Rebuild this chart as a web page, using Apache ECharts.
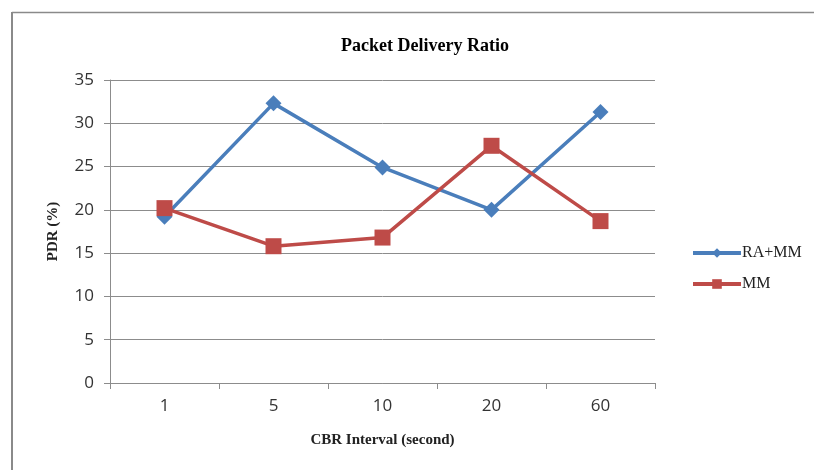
<!DOCTYPE html>
<html>
<head>
<meta charset="utf-8">
<script src="https://cdn.jsdelivr.net/npm/echarts@6/dist/echarts.min.js"></script>
<style>
  html, body { margin: 0; padding: 0; background: #fff; }
  #chart { width: 814px; height: 470px; }
</style>
</head>
<body>
<div id="chart"></div>
<script>
// CBR interval categories (seconds)
const categories = ['1', '5', '10', '20', '60'];
// Packet delivery ratio (%) per series
const raMm = [19.2, 32.3, 24.9, 20.0, 31.3];
const mm = [20.2, 15.8, 16.8, 27.4, 18.7];
// Y axis range
const yMin = 0, yMax = 35, yStep = 5;

const chart = echarts.init(document.getElementById('chart'));
const serif = '"Liberation Serif", "Times New Roman", serif';
const sans = '"Open Sans", "Noto Sans", sans-serif';

chart.setOption({
  animation: false,
  backgroundColor: '#fff',
  title: {
    text: 'Packet Delivery Ratio',
    left: 420, top: 32, textAlign: 'center',
    textStyle: { fontFamily: serif, fontWeight: 'bold', fontSize: 18, color: '#000' }
  },
  graphic: [
    { type: 'line', shape: { x1: 12, y1: 12.5, x2: 814, y2: 12.5 }, style: { stroke: '#8a8a8a', lineWidth: 1.5 } },
    { type: 'line', shape: { x1: 12, y1: 12, x2: 12, y2: 470 }, style: { stroke: '#8a8a8a', lineWidth: 2 } }
  ],
  legend: {
    orient: 'vertical',
    left: 686, top: 240,
    itemGap: 15,
    itemWidth: 48, itemHeight: 12,
    lineStyle: { width: 4 },
    textStyle: { fontFamily: serif, fontSize: 16, color: '#222', padding: [0, 0, 0, -4] },
    data: ['RA+MM', 'MM']
  },
  grid: { left: 110, right: 159, top: 80, bottom: 87 },
  xAxis: {
    type: 'category',
    data: categories,
    boundaryGap: true,
    name: 'CBR Interval (second)',
    nameLocation: 'middle',
    nameGap: 50,
    nameTextStyle: { fontFamily: serif, fontWeight: 'bold', fontSize: 15, color: '#222' },
    axisLine: { lineStyle: { color: '#8c8c8c', width: 1 } },
    axisTick: { show: true, length: 6, inside: false, lineStyle: { color: '#8c8c8c' } },
    axisLabel: { fontFamily: sans, fontSize: 17, color: '#333', margin: 15 }
  },
  yAxis: {
    type: 'value',
    min: yMin, max: yMax, interval: yStep,
    name: 'PDR (%)',
    nameLocation: 'middle',
    nameGap: 49,
    nameRotate: 90,
    nameTextStyle: { fontFamily: serif, fontWeight: 'bold', fontSize: 15, color: '#222' },
    axisLine: { show: true, lineStyle: { color: '#8c8c8c', width: 1 } },
    axisTick: { show: true, length: 6, lineStyle: { color: '#8c8c8c' } },
    axisLabel: { fontFamily: sans, fontSize: 17, color: '#333', margin: 16 },
    splitLine: { lineStyle: { color: '#8c8c8c', width: 1 } }
  },
  series: [
    {
      name: 'RA+MM', type: 'line', data: raMm,
      symbol: 'diamond', symbolSize: 16,
      lineStyle: { color: '#4a7ebb', width: 3.5 },
      itemStyle: { color: '#4a7ebb' }
    },
    {
      name: 'MM', type: 'line', data: mm,
      symbol: 'rect', symbolSize: 16,
      lineStyle: { color: '#be4b48', width: 3.5 },
      itemStyle: { color: '#be4b48' }
    }
  ]
});
</script>
</body>
</html>
